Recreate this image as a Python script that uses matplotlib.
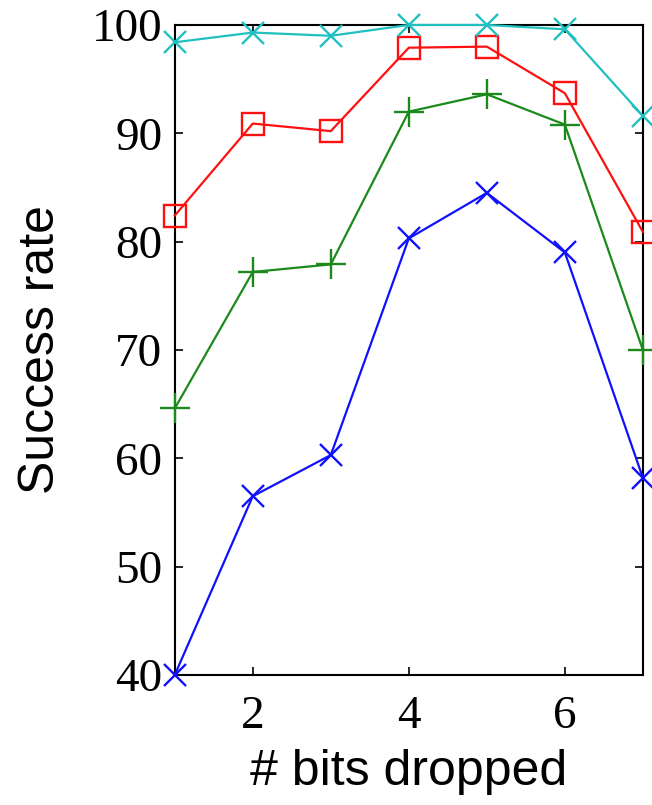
import matplotlib
matplotlib.use("Agg")
import matplotlib.pyplot as plt

bits = [1, 2, 3, 4, 5, 6, 7]
blue_vals = [40.0, 56.5, 60.3, 80.3, 84.5, 79.0, 58.2]
green_vals = [64.6, 77.2, 77.9, 92.0, 93.6, 90.8, 70.0]
red_vals = [82.4, 90.9, 90.2, 97.9, 98.0, 93.7, 80.9]
cyan_vals = [98.4, 99.3, 99.0, 100.0, 100.0, 99.6, 91.6]

fig = plt.figure(figsize=(6.52, 8.05), dpi=100)
ax = fig.add_axes([0.268, 0.1615, 0.718, 0.8075])

# gnuplot-like styles
ax.plot(bits, blue_vals, color='#1010ff', marker='x', ms=16, mew=1.7, lw=1.6, clip_on=False, zorder=3)
ax.plot(bits, green_vals, color='#1b8a1b', marker='+', ms=22, mew=1.7, lw=1.6, clip_on=False, zorder=3)
ax.plot(bits, red_vals, color='#ff1010', marker='s', ms=16, mew=1.7, mfc='none', lw=1.6, clip_on=False, zorder=3)
ax.plot(bits, cyan_vals, color='#20c0c0', marker='x', ms=16, mew=1.7, lw=1.6, clip_on=False, zorder=3)

ax.set_xlim(1, 7)
ax.set_ylim(40, 100)
ax.set_xticks([2, 4, 6])
ax.set_yticks([40, 50, 60, 70, 80, 90, 100])

for s in ax.spines.values():
    s.set_linewidth(1.5)
ax.tick_params(direction='in', length=6, width=1.2, top=True, right=True)
ax.tick_params(axis='y', pad=9)
ax.tick_params(axis='x', pad=15)
for lab in ax.get_xticklabels() + ax.get_yticklabels():
    lab.set_fontfamily('Liberation Serif')
    lab.set_fontsize(34)

ax.set_xlabel('# bits dropped', fontfamily='Liberation Sans', fontsize=36, labelpad=8)
ax.set_ylabel('Success rate', fontfamily='Liberation Sans', fontsize=36, labelpad=20)

fig.savefig('out.png', dpi=100)
